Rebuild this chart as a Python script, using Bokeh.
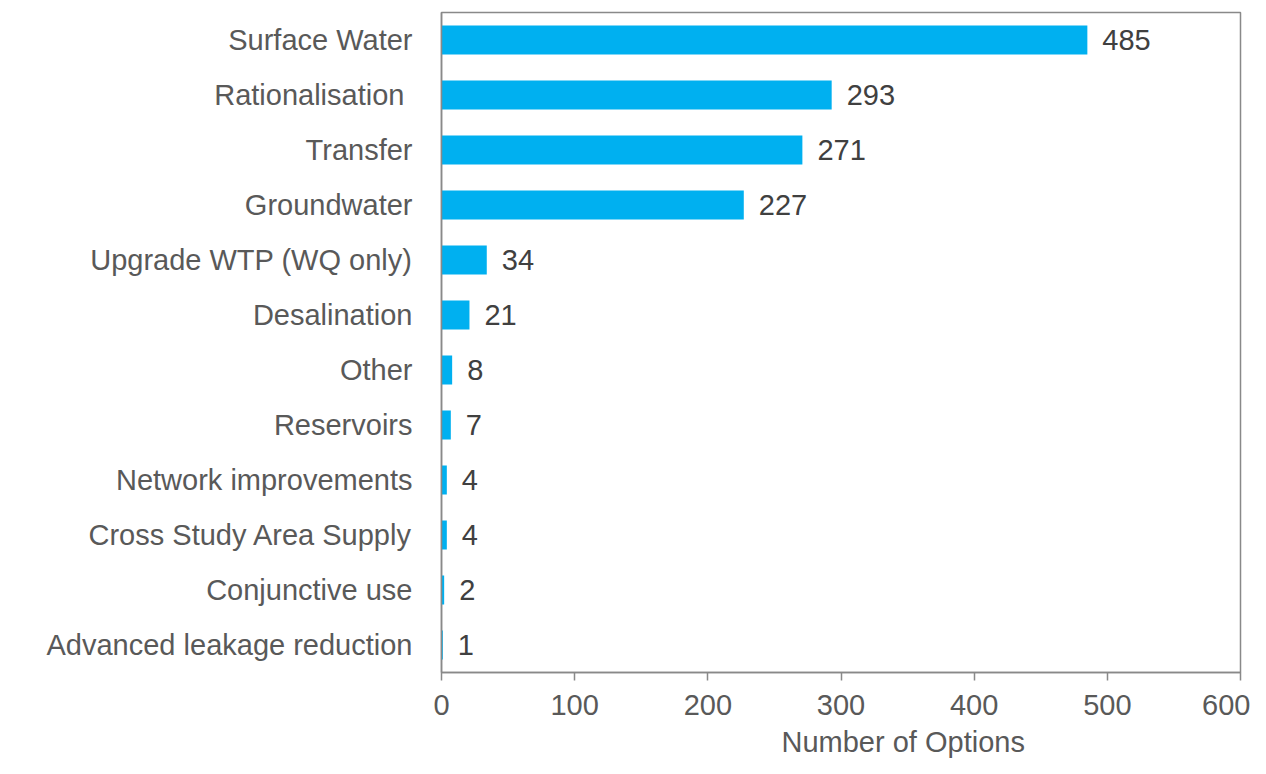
from bokeh.plotting import figure
from bokeh.models import ColumnDataSource, FixedTicker, Title
from bokeh.embed import file_html
from bokeh.resources import INLINE
from bokeh.core.properties import value

categories = ["Surface Water", "Rationalisation ", "Transfer", "Groundwater",
              "Upgrade WTP (WQ only)", "Desalination", "Other", "Reservoirs",
              "Network improvements", "Cross Study Area Supply",
              "Conjunctive use", "Advanced leakage reduction"]
counts = [485, 293, 271, 227, 34, 21, 8, 7, 4, 4, 2, 1]
x_ticks = [0, 100, 200, 300, 400, 500, 600]
x_label = "Number of Options"

FONT = "Liberation Sans"
FS = "29px"
src = ColumnDataSource(dict(cat=categories, n=counts,
                            lbl=[str(v) for v in counts]))

p = figure(y_range=list(reversed(categories)), x_range=(0, 600),
           width=1250, height=772, output_backend="svg",
           toolbar_location=None,
           min_border_left=441, min_border_top=12,
           min_border_right=10, min_border_bottom=100)
p.y_range.range_padding = 0

p.hbar(y="cat", right="n", left=0, height=0.53, source=src,
       color="#00B0F0", line_color=None)
p.text(x="n", y="cat", text="lbl", source=src, x_offset=15,
       text_baseline="middle", text_align="left",
       text_font=value(FONT), text_font_size=FS, text_color="#404040")

p.grid.visible = False
p.outline_line_color = "#898989"
p.outline_line_width = 1.5
p.background_fill_color = "white"
p.border_fill_color = "white"

p.xaxis.ticker = FixedTicker(ticks=x_ticks)
p.xaxis.axis_line_color = "#898989"
p.xaxis.axis_line_width = 1.5
p.xaxis.major_tick_line_color = "#898989"
p.xaxis.major_tick_line_width = 1.5
p.xaxis.major_tick_out = 8
p.xaxis.major_tick_in = 0
p.xaxis.minor_tick_line_color = None
p.xaxis.major_label_standoff = 14
p.xaxis.major_label_text_font = FONT
p.xaxis.major_label_text_font_size = FS
p.xaxis.major_label_text_color = "#595959"

p.yaxis.axis_line_color = "#898989"
p.yaxis.axis_line_width = 1.5
p.yaxis.major_tick_line_color = None
p.yaxis.major_tick_out = 0
p.yaxis.major_tick_in = 0
p.yaxis.minor_tick_line_color = None
p.yaxis.major_label_standoff = 29
p.yaxis.major_label_text_font = FONT
p.yaxis.major_label_text_font_size = FS
p.yaxis.major_label_text_color = "#595959"

p.add_layout(Title(text=x_label, align="left", offset=340, standoff=12,
                   text_font=FONT, text_font_size=FS, text_font_style="normal",
                   text_color="#595959"), "below")

open("out.html", "w").write(file_html(p, INLINE))
